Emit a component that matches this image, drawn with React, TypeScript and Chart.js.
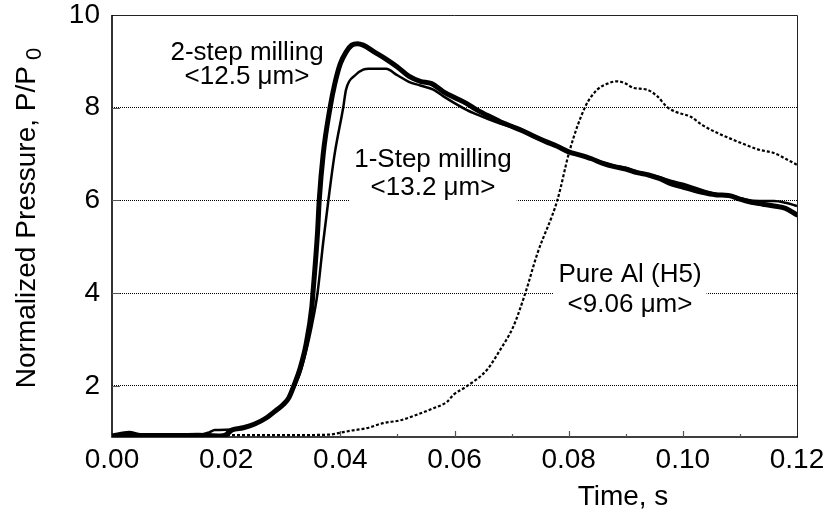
import React, { useEffect, useRef } from "react";
import { Chart, registerables } from "chart.js";

Chart.register(...registerables);

// ---- Data ----
const twoStepTime = [0, 0.003, 0.005, 0.010, 0.015, 0.019, 0.020, 0.021, 0.023, 0.025, 0.027, 0.029, 0.030, 0.031, 0.032, 0.033, 0.034, 0.035, 0.0352, 0.036, 0.0363, 0.037, 0.0382, 0.039, 0.040, 0.041, 0.042, 0.043, 0.044, 0.046, 0.048, 0.050, 0.052, 0.054, 0.056, 0.058, 0.060, 0.062, 0.064, 0.066, 0.068, 0.070, 0.072, 0.074, 0.076, 0.078, 0.080, 0.082, 0.084, 0.086, 0.088, 0.090, 0.092, 0.094, 0.096, 0.098, 0.100, 0.102, 0.104, 0.106, 0.108, 0.110, 0.112, 0.114, 0.116, 0.118, 0.120];
const twoStepPressure = [0.92, 0.98, 0.93, 0.93, 0.94, 0.92, 0.95, 1.05, 1.1, 1.18, 1.31, 1.5, 1.6, 1.75, 2.05, 2.4, 2.9, 3.7, 4.0, 5.3, 6.0, 7.0, 8.0, 8.5, 8.95, 9.2, 9.35, 9.38, 9.35, 9.2, 9.05, 8.88, 8.68, 8.57, 8.52, 8.35, 8.22, 8.1, 7.95, 7.82, 7.7, 7.6, 7.5, 7.38, 7.27, 7.17, 7.05, 6.98, 6.9, 6.8, 6.73, 6.68, 6.6, 6.55, 6.47, 6.36, 6.29, 6.22, 6.16, 6.12, 6.11, 6.03, 5.96, 5.92, 5.88, 5.83, 5.69];

const oneStepTime = [0, 0.005, 0.010, 0.015, 0.017, 0.018, 0.021, 0.023, 0.025, 0.027, 0.029, 0.030, 0.031, 0.032, 0.033, 0.034, 0.035, 0.036, 0.037, 0.0379, 0.039, 0.0405, 0.041, 0.0426, 0.044, 0.045, 0.048, 0.050, 0.052, 0.054, 0.0563, 0.058, 0.060, 0.0622, 0.064, 0.066, 0.068, 0.070, 0.072, 0.074, 0.076, 0.078, 0.080, 0.082, 0.084, 0.086, 0.088, 0.090, 0.092, 0.094, 0.096, 0.098, 0.100, 0.102, 0.104, 0.106, 0.108, 0.110, 0.112, 0.114, 0.116, 0.118, 0.120];
const oneStepPressure = [0.93, 0.92, 0.93, 0.94, 1.0, 1.05, 1.06, 1.1, 1.18, 1.31, 1.5, 1.6, 1.75, 2.0, 2.3, 2.75, 3.3, 4.0, 5.1, 6.0, 7.0, 8.0, 8.39, 8.7, 8.82, 8.84, 8.84, 8.7, 8.56, 8.48, 8.39, 8.25, 8.1, 7.95, 7.85, 7.75, 7.66, 7.58, 7.5, 7.4, 7.28, 7.17, 7.07, 6.98, 6.9, 6.82, 6.75, 6.7, 6.62, 6.56, 6.5, 6.42, 6.36, 6.28, 6.2, 6.14, 6.1, 6.05, 6.0, 5.99, 5.99, 5.95, 5.88];

const pureAlTime = [0, 0.010, 0.020, 0.030, 0.038, 0.0399, 0.042, 0.0446, 0.0475, 0.0505, 0.0534, 0.0563, 0.0587, 0.0598, 0.0621, 0.0657, 0.068, 0.0703, 0.0724, 0.0745, 0.078, 0.0802, 0.0829, 0.085, 0.0868, 0.0885, 0.090, 0.0913, 0.0937, 0.0955, 0.0972, 0.099, 0.1013, 0.1035, 0.106, 0.1088, 0.111, 0.1135, 0.1158, 0.118, 0.120];
const pureAlPressure = [0.93, 0.93, 0.94, 0.94, 0.95, 0.99, 1.04, 1.09, 1.2, 1.26, 1.38, 1.52, 1.66, 1.81, 1.99, 2.35, 2.78, 3.28, 4.0, 4.85, 6.0, 7.09, 8.02, 8.39, 8.52, 8.57, 8.52, 8.43, 8.39, 8.25, 8.02, 7.9, 7.81, 7.62, 7.46, 7.31, 7.2, 7.09, 7.03, 6.9, 6.77];

const xTickValues = [0, 0.02, 0.04, 0.06, 0.08, 0.1, 0.12];
const xMinorTickValues = [0.01, 0.03, 0.05, 0.07, 0.09, 0.11];
const yTickValues = [2, 4, 6, 8, 10];

const labelTexts = [
  ["2-step milling", "<12.5 \u03bcm>"],
  ["1-Step milling", "<13.2 \u03bcm>"],
  ["Pure Al (H5)", "<9.06 \u03bcm>"],
];
const labelAnchorTime = [0.02365, 0.05623, 0.09075];
const labelAnchorLine1 = [9.036, 6.727, 4.246];
const labelAnchorLine2 = [8.518, 6.123, 3.599];

const xTitle = "Time, s";
const yTitle = "Normalized Pressure, P/P";
const yTitleSub = "0";

const FONT = "'Liberation Sans', Arial, sans-serif";

function pts(xs: number[], ys: number[]) {
  return xs.map((x, i) => ({ x, y: ys[i] }));
}

export default function App() {
  const ref = useRef<HTMLCanvasElement>(null);

  useEffect(() => {
    const canvas = ref.current;
    if (!canvas) return;

    const deco = {
      id: "deco",
      beforeDatasetsDraw(chart: any) {
        const { ctx, chartArea: a, scales } = chart;
        const x = scales.x;
        const y = scales.y;
        ctx.save();
        // white boxes behind labels (hide gridlines)
        ctx.font = `26px ${FONT}`;
        labelTexts.forEach((lines, i) => {
          const cx = x.getPixelForValue(labelAnchorTime[i]);
          const b1 = y.getPixelForValue(labelAnchorLine1[i]);
          const b2 = y.getPixelForValue(labelAnchorLine2[i]);
          const w = Math.max(...lines.map((s) => ctx.measureText(s).width)) + 10;
          ctx.fillStyle = "#fff";
          ctx.fillRect(cx - w / 2, b1 - 24, w, b2 - b1 + 32);
        });
        // frame
        ctx.strokeStyle = "#222";
        ctx.lineWidth = 1;
        ctx.beginPath();
        ctx.moveTo(a.left, a.top + 0.5);
        ctx.lineTo(a.right + 0.5, a.top + 0.5);
        ctx.lineTo(a.right + 0.5, a.bottom);
        ctx.stroke();
        ctx.strokeStyle = "#000";
        ctx.lineWidth = 1.6;
        ctx.beginPath();
        ctx.moveTo(a.left, a.top);
        ctx.lineTo(a.left, a.bottom);
        ctx.lineTo(a.right + 1, a.bottom);
        ctx.stroke();
        // inner ticks
        ctx.strokeStyle = "#555";
        ctx.lineWidth = 1.2;
        ctx.beginPath();
        xTickValues.slice(1, -1).forEach((v) => {
          const px = Math.round(x.getPixelForValue(v)) + 0.5;
          ctx.moveTo(px, a.bottom);
          ctx.lineTo(px, a.bottom - 6);
        });
        xMinorTickValues.forEach((v) => {
          const px = Math.round(x.getPixelForValue(v)) + 0.5;
          ctx.moveTo(px, a.bottom);
          ctx.lineTo(px, a.bottom - 3);
        });
        yTickValues.slice(0, -1).forEach((v) => {
          const py = Math.round(y.getPixelForValue(v)) + 0.5;
          ctx.moveTo(a.left, py);
          ctx.lineTo(a.left + 8, py);
        });
        ctx.stroke();
        ctx.restore();
      },
      afterDatasetsDraw(chart: any) {
        const { ctx, chartArea: a, scales } = chart;
        const x = scales.x;
        const y = scales.y;
        ctx.save();
        ctx.fillStyle = "#000";
        // annotations
        ctx.font = `26px ${FONT}`;
        ctx.textAlign = "center";
        ctx.textBaseline = "alphabetic";
        labelTexts.forEach((lines, i) => {
          const cx = x.getPixelForValue(labelAnchorTime[i]);
          ctx.fillText(lines[0], cx, y.getPixelForValue(labelAnchorLine1[i]));
          ctx.fillText(lines[1], cx, y.getPixelForValue(labelAnchorLine2[i]));
        });
        // x title
        ctx.font = `28px ${FONT}`;
        ctx.textAlign = "center";
        ctx.fillText(xTitle, 623, 505);
        // y title (rotated) with subscript
        ctx.translate(35, (a.top + a.bottom) / 2);
        ctx.rotate(-Math.PI / 2);
        ctx.font = `28px ${FONT}`;
        const wMain = ctx.measureText(yTitle).width;
        ctx.font = `22px ${FONT}`;
        const wSub = ctx.measureText(yTitleSub).width;
        const total = wMain + 6 + wSub;
        const start = -total / 2 + 8;
        ctx.textAlign = "left";
        ctx.font = `28px ${FONT}`;
        ctx.fillText(yTitle, start, 0);
        ctx.font = `22px ${FONT}`;
        ctx.fillText(yTitleSub, start + wMain + 6, 6);
        ctx.restore();
      },
    };

    const chart = new Chart(canvas, {
      type: "line",
      data: {
        datasets: [
          {
            label: "2-step milling",
            data: pts(twoStepTime, twoStepPressure),
            borderColor: "#000",
            borderWidth: 5,
            pointRadius: 0,
            cubicInterpolationMode: "monotone",
            borderCapStyle: "round",
            borderJoinStyle: "round",
          },
          {
            label: "1-Step milling",
            data: pts(oneStepTime, oneStepPressure),
            borderColor: "#000",
            borderWidth: 2.5,
            pointRadius: 0,
            cubicInterpolationMode: "monotone",
          },
          {
            label: "Pure Al (H5)",
            data: pts(pureAlTime, pureAlPressure),
            borderColor: "#000",
            borderWidth: 2.2,
            borderDash: [3, 2],
            pointRadius: 0,
            cubicInterpolationMode: "monotone",
          },
        ],
      },
      options: {
        responsive: false,
        animation: false,
        events: [],
        layout: { padding: { top: 15, right: 32, left: 0, bottom: 0 } },
        plugins: { legend: { display: false }, tooltip: { enabled: false }, title: { display: false } },
        scales: {
          x: {
            type: "linear",
            min: 0,
            max: 0.12,
            afterBuildTicks: (s: any) => {
              s.ticks = xTickValues.map((v) => ({ value: v }));
            },
            afterFit: (s: any) => {
              s.height = 77;
              s.paddingLeft = 0;
              s.paddingRight = 0;
            },
            grid: { display: false, drawTicks: false },
            border: { display: false },
            ticks: {
              padding: 9,
              maxRotation: 0,
              autoSkip: false,
              color: "#000",
              font: { family: FONT, size: 28, lineHeight: 1 },
              callback: (v: any) => Number(v).toFixed(2),
            },
          },
          y: {
            type: "linear",
            min: 0.9,
            max: 10,
            afterBuildTicks: (s: any) => {
              s.ticks = yTickValues.map((v) => ({ value: v }));
            },
            afterFit: (s: any) => {
              s.width = 112;
              s.paddingTop = 0;
              s.paddingBottom = 0;
            },
            grid: {
              drawTicks: false,
              lineWidth: 1,
              color: (c: any) => (c.tick && c.tick.value === 10 ? "rgba(0,0,0,0)" : "#000"),
            },
            border: { display: false, dash: [1, 1] },
            ticks: {
              padding: 12,
              color: "#000",
              font: { family: FONT, size: 28, lineHeight: 1 },
              callback: (v: any) => String(v),
            },
          },
        },
      },
      plugins: [deco],
    } as any);

    return () => chart.destroy();
  }, []);

  return (
    <div style={{ position: "absolute", left: 0, top: 0, width: 829, height: 514, background: "#fff" }}>
      <canvas ref={ref} width={829} height={514} style={{ width: 829, height: 514, display: "block" }} />
    </div>
  );
}
